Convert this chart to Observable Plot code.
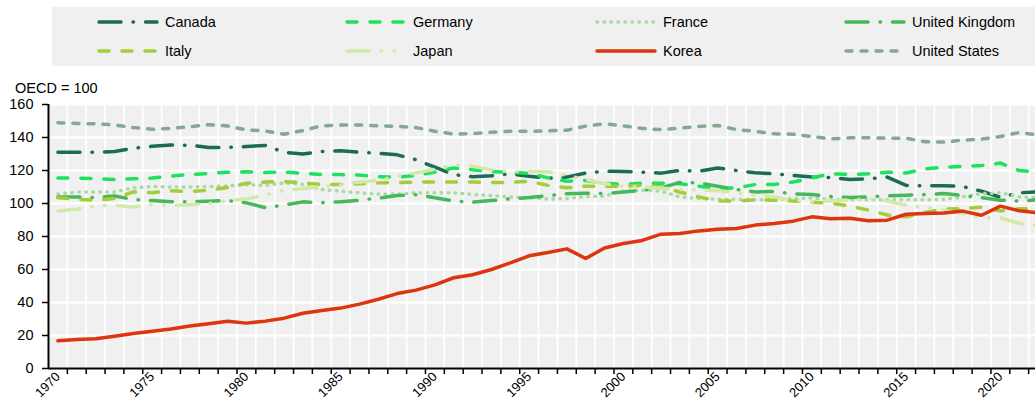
<!DOCTYPE html>
<html><head><meta charset="utf-8">
<script src="https://cdn.jsdelivr.net/npm/d3@7"></script>
<script src="https://cdn.jsdelivr.net/npm/@observablehq/plot@0.6"></script>
<style>
html,body{margin:0;padding:0;background:#fff;overflow:hidden;width:1035px;height:403px}
body{position:relative}
#legend{position:absolute;left:52px;top:7px;width:1000px;height:59px;background:#f0f0f0}
.item{position:absolute;height:20px;display:flex;align-items:center;color:#000;white-space:nowrap}
.item svg{display:block;margin-right:6px}
#unit{position:absolute;left:15px;top:81px;line-height:1;color:#000}
#chart{position:absolute;left:0;top:70px}
</style></head>
<body>
<div id="legend"></div>
<div id="unit">OECD = 100</div>
<div id="chart"></div>
<script>
const years = d3.range(1970, 2023);
const xLabelYears = [1970,1975,1980,1985,1990,1995,2000,2005,2010,2015,2020];
const yTicks = [0,20,40,60,80,100,120,140,160];
const unitLabel = "OECD = 100";

const countries = ["Canada","Germany","France","United Kingdom","Italy","Japan","Korea","United States"];

const canada = [131,131,131,131.5,133.5,134.7,135.5,135.3,134,134,
  134.5,135.2,131,130,131.5,132,131,130.5,129.5,126.5,
  122,117.5,116.2,116.8,118,116.5,115.3,116,118.5,119.5,
  119.4,119,118.4,120,119.6,121.5,120,118.6,118,117,
  116,115.7,114.6,115,116,111,110.7,110.8,110.3,107.5,
  103.8,106.5,107];
const germany = [115.4,115.4,115,114.5,115,115.4,116.6,117.6,118.2,119,
  119.2,118.8,119,118.3,117.6,117.5,117.2,116.2,116,117,
  119,121.5,120.5,119.3,119,118.3,115.5,113.5,114,112.3,
  111.5,112.3,112.3,112,110.5,109,109.5,111.5,111.5,113,
  115.5,118,117.6,118,119,118.5,121,122,122.5,123,
  124.5,120,119];
const france = [105.7,106.9,106.9,107,109.5,110.3,110,110,110.3,110.7,
  111.3,111,112.5,111.5,108.5,107.5,106.5,105.7,105.7,106.5,
  106.5,106.5,105.5,104.8,104,103.6,102.7,103,104.2,104.5,
  107.5,108,107.5,104,103,102.6,102.5,102.3,102.3,103,
  103.4,102.5,102.2,102.2,102.2,102.2,102.2,102.5,104,106,
  106.5,104,103.5];
const uk = [104,104,103.6,104.6,102.4,101.8,101,101,101.4,101.8,
  100.4,97.5,99,101,100.5,101,102,103.3,104.8,105.3,
  103.5,101.5,100.8,101.8,102.8,103.6,104.8,105.9,106.2,106,
  107,108,109.5,112.8,112.5,110.5,108.5,107,107.3,105.8,
  105.5,104.3,103.6,104,104.7,105,105.4,106,104.8,103.5,
  102,101.5,102.2];
const italy = [103.5,102.5,102,103,107,106.5,107.7,107.3,108,109.7,
  112.3,113,113.3,112.5,111.5,111.5,112,112.5,112.7,113,
  113,113,113,112.8,112.8,113.5,111,109.5,110.5,110.3,
  110.5,111,110,107,104,101.6,101.4,102.2,102,101.5,
  100.8,100.2,98.5,96,93,92,94.5,96.5,97,97.8,
  95.5,96.8,97];
const japan = [95.5,96.5,98.5,99,97.8,99.5,98.8,99.3,100,101.6,
  102.8,105,108,109,110.2,111.2,113,114,116.5,118.5,
  120.8,123.5,122.5,120.5,119.3,119.4,119.3,117,114.5,112,
  110.5,110,109.3,108.5,108.2,107.8,106.5,105,104,101.8,
  101,101.5,102.2,102.8,101.5,99,97.5,96,94,91.5,
  91.3,88,86.5];
const korea = [16.8,17.6,18,19.6,21.2,22.6,24,25.7,27.1,28.7,
  27.5,28.7,30.5,33.5,35.2,36.6,39,42,45.4,47.5,
  50.7,55,56.8,60,64,68.3,70.3,72.5,66.7,73,
  75.8,77.6,81.4,81.8,83.4,84.4,84.8,86.9,87.9,89.3,
  91.9,90.7,91.1,89.5,89.9,93.5,93.9,94.3,95.4,92.9,
  98.4,95.6,94.3];
const us = [149,148.5,148.3,147.6,146,145,145.5,146.5,147.8,147,
  144.6,144,142,144.2,147.1,147.5,147.6,147.1,146.8,146,
  143.8,142,142.4,143.2,143.8,143.8,144,144.4,146.9,148.3,
  147.1,145.5,144.8,145.7,146.7,147.3,144.8,143.8,142.2,142,
  140.6,139.2,139.8,139.8,139.6,139.6,137.4,137.2,138.4,139,
  140.6,143,141.5];

const seriesValues = [canada, germany, france, uk, italy, japan, korea, us];
const colors = ["#1b6b55","#1de25e","#a9daa5","#46b75a","#a5cd39","#d3e9a8","#dd3510","#84a98f"];
const dashes = ["22,12,0.5,12","10,13","0.5,6.5","22,12,0.5,12","10,13","22,12,0.5,12.5,0.5,12",null,"6,9"];

function hasFont(name){
  const c = document.createElement("canvas").getContext("2d");
  const s = "abcdefghijklmnopqrstuvwxyz0123456789ABCDEF";
  c.font = "40px monospace"; const a = c.measureText(s).width;
  c.font = `40px "${name}", monospace`; const b = c.measureText(s).width;
  return a !== b;
}
const narrowName = hasFont("Liberation Sans Narrow") ? "Liberation Sans Narrow" : (hasFont("Arial Narrow") ? "Arial Narrow" : null);
const FONT = narrowName ? `"${narrowName}", sans-serif` : `"Liberation Sans", Arial, sans-serif`;
const FS = narrowName ? 17 : 14.5;
const FSX = narrowName ? 15 : 13;

document.body.style.fontFamily = FONT;
document.getElementById("unit").style.fontSize = FS + "px";
document.getElementById("unit").textContent = unitLabel;

// legend
const legend = document.getElementById("legend");
const colX = [45, 293, 543, 792];
const rowY = [5, 34];
countries.forEach((name, i) => {
  const col = i % 4, row = Math.floor(i / 4);
  const div = document.createElement("div");
  div.className = "item";
  div.style.left = colX[col] + "px";
  div.style.top = rowY[row] + "px";
  div.style.fontSize = FS + "px";
  const ns = "http://www.w3.org/2000/svg";
  const s = document.createElementNS(ns, "svg");
  s.setAttribute("width", 62); s.setAttribute("height", 20);
  const l = document.createElementNS(ns, "line");
  l.setAttribute("x1", 2); l.setAttribute("x2", 60); l.setAttribute("y1", 10); l.setAttribute("y2", 10);
  l.setAttribute("stroke", colors[i]); l.setAttribute("stroke-width", 3.5);
  l.setAttribute("stroke-linecap", "round");
  if (dashes[i]) l.setAttribute("stroke-dasharray", dashes[i]);
  s.appendChild(l);
  div.appendChild(s);
  div.appendChild(document.createTextNode(name));
  legend.appendChild(div);
});

// data table
const data = [];
countries.forEach((c, i) => years.forEach((y, j) => data.push({country: c, year: y, value: seriesValues[i][j]})));
const boundaries = years.map(y => y + 0.5);

const lineMarks = countries.map((c, i) => Plot.line(data.filter(d => d.country === c), {
  x: "year", y: "value",
  stroke: colors[i], strokeWidth: 3.5,
  strokeDasharray: dashes[i] || undefined,
  strokeLinecap: "round", strokeLinejoin: "round"
}));

const W = 1047;
const plot = Plot.plot({
  width: W, height: 333,
  marginLeft: 48, marginRight: 0, marginTop: 34, marginBottom: 35,
  style: {background: "transparent", fontFamily: FONT, fontSize: FS + "px", maxWidth: "none", overflow: "visible", color: "#000"},
  x: {type: "linear", domain: [years[0] - 0.5, years[years.length - 1] + 0.5]},
  y: {domain: [yTicks[0], yTicks[yTicks.length - 1]]},
  marks: [
    Plot.frame({fill: "#f0f0f0", stroke: null}),
    Plot.gridY(yTicks, {stroke: "#fff", strokeOpacity: 1, strokeWidth: 1.8}),
    Plot.gridX(boundaries, {stroke: "#fff", strokeOpacity: 1, strokeWidth: 1.8}),
    ...lineMarks,
    Plot.ruleY([yTicks[0]], {stroke: "#000", strokeWidth: 2}),
    Plot.ruleX([years[0] - 0.5], {stroke: "#000", strokeWidth: 2}),
    Plot.axisY(yTicks, {tickSize: 6, tickPadding: 9, fontSize: FS, label: null, stroke: "#000", strokeWidth: 1.5}),
    Plot.axisX(boundaries, {tickSize: 6, tickFormat: () => "", label: null, stroke: "#000", strokeWidth: 1.5}),
    Plot.axisX(xLabelYears, {tickSize: 0, tickPadding: 6, tickRotate: -45, fontSize: FSX, label: null, tickFormat: d => String(d)})
  ]
});
plot.style.maxWidth = "none";
document.getElementById("chart").appendChild(plot);
</script>
</body></html>
